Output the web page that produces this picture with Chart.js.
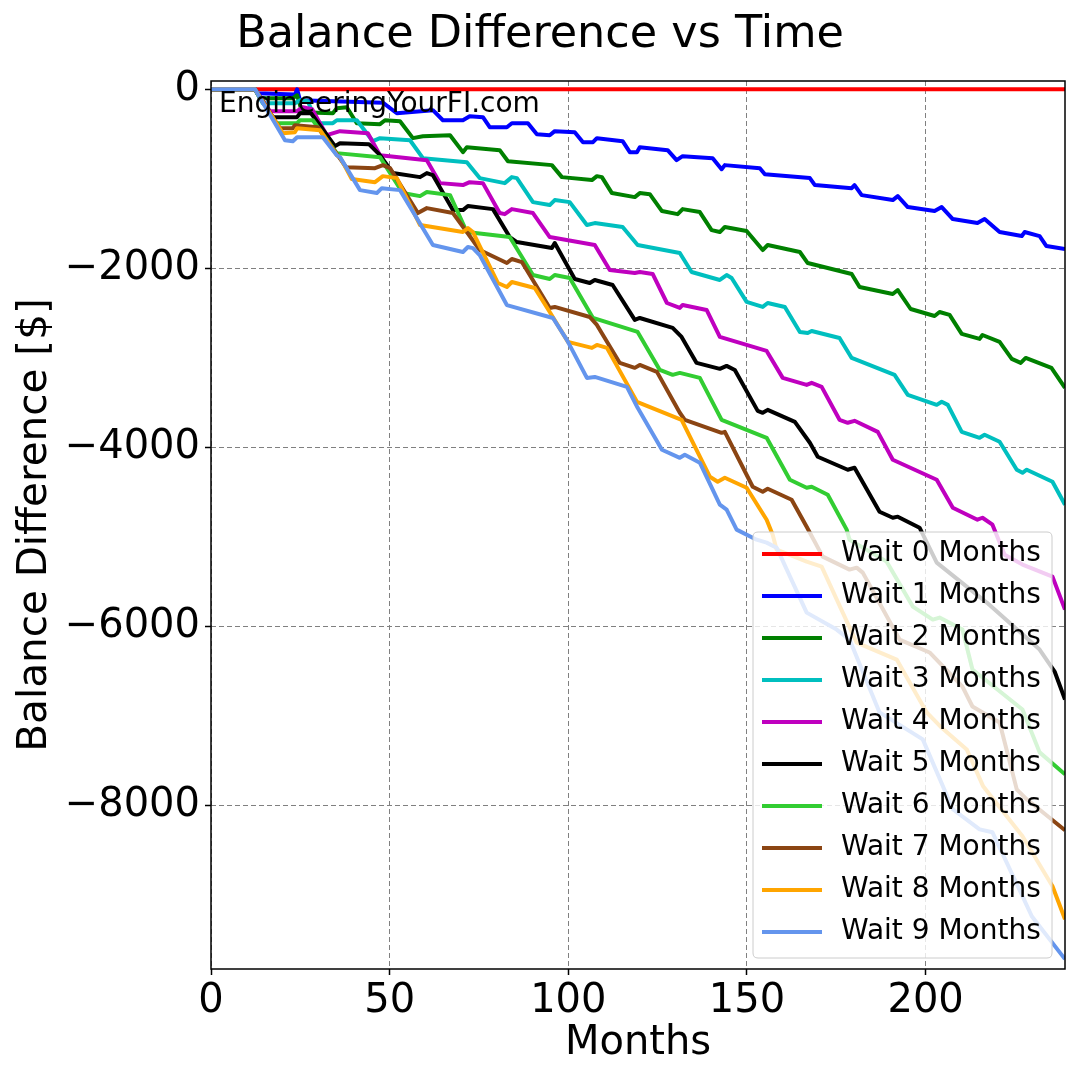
<!DOCTYPE html>
<html>
<head>
<meta charset="utf-8">
<script src="https://cdn.jsdelivr.net/npm/chart.js@4/dist/chart.umd.min.js"></script>
<style>
  html, body { margin: 0; padding: 0; background: #fff; }
  #wrap { width: 1080px; height: 1080px; }
</style>
</head>
<body>
<div id="wrap"><canvas id="chart" width="1080" height="1080"></canvas></div>
<script>
// Axis ticks
const xTicks = [0, 50, 100, 150, 200];
const yTicks = [0, -2000, -4000, -6000, -8000];

// Series names
const seriesLabels = ['Wait 0 Months', 'Wait 1 Months', 'Wait 2 Months', 'Wait 3 Months', 'Wait 4 Months',
    'Wait 5 Months', 'Wait 6 Months', 'Wait 7 Months', 'Wait 8 Months', 'Wait 9 Months'];

// Series values: [month, balance difference]
const wait0 = [[0, 0], [239, 0]];
const wait1 = [[0,0],[12.3,0],[13.2,-45],[23.5,-60],[24.1,0],[24.9,-123],[48.1,-150],[52.0,-268],[62.1,-234],[64.9,-346],[70.5,-346],[72.4,-301],[76.1,-312],[78.0,-424],[82.8,-424],[84.2,-379],[88.7,-379],[91.2,-502],[94.8,-513],[96.2,-468],[101.8,-479],[104.1,-591],[106.9,-591],[108.0,-546],[115.2,-580],[117.2,-702],[119.2,-702],[120.0,-647],[127.8,-680],[130.3,-792],[132.0,-747],[140.4,-769],[142.9,-892],[143.8,-847],[153.6,-881],[155.0,-948],[167.6,-992],[169.0,-1070],[179.3,-1104],[180.1,-1070],[182.1,-1182],[190.8,-1237],[192.2,-1193],[195.0,-1315],[202.5,-1360],[204.5,-1315],[207.6,-1449],[214.5,-1494],[216.5,-1449],[220.7,-1594],[226.9,-1639],[227.7,-1594],[231.9,-1639],[233.8,-1750],[239,-1784]];
const wait2 = [[0,0],[12.3,0],[13.7,-100],[22.9,-100],[24.1,-67],[25.5,-256],[34.1,-268],[35.2,-212],[38.0,-201],[40.8,-379],[47.3,-390],[48.7,-346],[52.9,-357],[56.5,-546],[59.3,-524],[66.9,-513],[70.5,-702],[71.6,-647],[80.8,-680],[83.1,-803],[95.4,-847],[98.2,-981],[106.6,-1014],[108.0,-970],[109.4,-981],[112.2,-1159],[118.6,-1204],[120.0,-1159],[122.8,-1171],[126.2,-1360],[130.6,-1394],[132.0,-1338],[136.8,-1371],[140.1,-1572],[142.4,-1594],[143.8,-1538],[149.9,-1583],[154.4,-1795],[155.8,-1739],[164.8,-1817],[167.0,-1940],[179.3,-2062],[181.5,-2207],[190.8,-2285],[192.2,-2241],[195.8,-2453],[202.5,-2531],[203.9,-2486],[206.7,-2519],[210.1,-2731],[215.1,-2787],[215.9,-2743],[220.7,-2820],[224.1,-3010],[226.6,-3055],[228.0,-2999],[235.2,-3110],[239,-3333]];
const wait3 = [[0,0],[12.3,0],[14.5,-156],[23.5,-156],[24.9,-123],[27.1,-134],[29.7,-379],[34.1,-379],[35.2,-346],[40.8,-346],[45.3,-580],[47.3,-546],[55.7,-569],[59.3,-769],[71.6,-814],[75.2,-992],[82.2,-1048],[84.2,-981],[85.6,-992],[90.1,-1260],[94.8,-1293],[96.2,-1237],[100.4,-1260],[105.2,-1516],[107.4,-1494],[115.2,-1538],[119.4,-1739],[131.2,-1828],[134.5,-2040],[142.4,-2129],[144.3,-2074],[145.7,-2107],[149.9,-2374],[154.4,-2430],[155.8,-2386],[160.6,-2430],[164.8,-2709],[167.0,-2720],[168.1,-2698],[175.9,-2776],[179.3,-2999],[191.3,-3188],[195.0,-3411],[203.1,-3523],[204.5,-3489],[206.2,-3523],[210.1,-3824],[215.1,-3891],[216.5,-3857],[220.7,-3935],[225.5,-4247],[227.1,-4281],[228.3,-4247],[235.5,-4381],[239,-4638]];
const wait4 = [[0,0],[12.3,0],[16.5,-245],[24.1,-245],[25.7,-201],[28.3,-223],[32.4,-513],[36.1,-468],[43.9,-491],[47.3,-736],[60.4,-792],[64.1,-1048],[70.5,-1070],[72.4,-1037],[76.1,-1048],[80.8,-1382],[82.2,-1394],[84.2,-1338],[90.1,-1382],[94.8,-1650],[107.4,-1739],[111.6,-2018],[118.6,-2051],[120.0,-2040],[123.6,-2062],[127.6,-2386],[131.2,-2441],[132.0,-2408],[138.7,-2464],[142.4,-2765],[155.5,-2921],[160.0,-3222],[166.7,-3300],[168.1,-3277],[170.9,-3322],[175.9,-3690],[178.2,-3723],[180.1,-3701],[186.6,-3824],[190.8,-4136],[203.1,-4359],[207.6,-4671],[214.5,-4805],[215.9,-4783],[218.7,-4861],[222.1,-5195],[227.1,-5306],[235.5,-5440],[239,-5808]];
const wait5 = [[0,0],[12.3,0],[17.3,-312],[24.1,-312],[24.9,-268],[28.0,-268],[34.7,-635],[36.1,-602],[44.2,-613],[47.3,-736],[50.9,-936],[58.5,-981],[60.4,-936],[62.1,-959],[67.7,-1349],[70.5,-1349],[71.9,-1304],[78.9,-1338],[83.6,-1650],[85.6,-1706],[95.4,-1773],[96.2,-1717],[101.8,-2118],[106.0,-2163],[107.4,-2129],[112.4,-2185],[118.6,-2575],[120.0,-2553],[129.2,-2664],[131.7,-2765],[135.9,-3055],[142.4,-3121],[144.3,-3088],[146.6,-3133],[153.0,-3590],[154.4,-3612],[155.8,-3579],[163.4,-3712],[167.6,-3946],[169.8,-4102],[178.2,-4247],[180.1,-4225],[187.1,-4716],[190.8,-4783],[192.2,-4771],[198.3,-4894],[203.1,-5284],[217.1,-5730],[231.9,-6254],[236.1,-6500],[239,-6812]];
const wait6 = [[0,0],[12.3,0],[18.2,-379],[24.1,-379],[24.9,-346],[28.5,-346],[35.2,-713],[47.3,-758],[53.7,-1159],[58.5,-1193],[60.4,-1148],[66.9,-1182],[71.6,-1594],[83.6,-1650],[90.1,-2074],[94.8,-2118],[96.2,-2074],[100.4,-2107],[106.9,-2553],[119.4,-2709],[125.6,-3133],[129.2,-3188],[131.2,-3166],[136.8,-3222],[142.9,-3690],[155.5,-3891],[162.0,-4359],[166.7,-4448],[168.1,-4437],[172.6,-4526],[177.9,-4916],[178.7,-5028],[189.1,-5273],[196.4,-5775],[202.0,-5920],[203.9,-5897],[210.3,-6031],[213.1,-6477],[227.1,-6923],[231.9,-7402],[239,-7647]];
const wait7 = [[0,0],[12.3,0],[19.3,-435],[22.9,-435],[23.5,-401],[29.9,-424],[37.8,-870],[45.9,-881],[48.1,-847],[50.1,-881],[57.9,-1382],[60.4,-1327],[67.7,-1382],[71.6,-1594],[75.2,-1795],[82.8,-1940],[84.2,-1895],[87.0,-1929],[94.8,-2441],[96.2,-2430],[106.0,-2542],[108.0,-2631],[114.4,-3055],[118.6,-3110],[120.0,-3077],[124.8,-3155],[131.2,-3611],[132.6,-3690],[142.9,-3835],[143.8,-3824],[151.6,-4437],[154.4,-4493],[155.8,-4459],[162.5,-4582],[166.7,-4883],[171.2,-5217],[178.7,-5362],[180.7,-5340],[182.4,-5396],[192.7,-6143],[201.1,-6287],[210.3,-6667],[213.1,-6890],[220.7,-7068],[225.5,-7815],[228.3,-7926],[239,-8272]];
const wait8 = [[0,0],[12.3,0],[20.1,-491],[23.5,-479],[24.1,-435],[30.5,-457],[35.2,-736],[36.1,-758],[39.4,-1003],[45.9,-1037],[48.1,-970],[52.0,-992],[58.5,-1516],[70.5,-1594],[71.9,-1550],[73.3,-1594],[80.3,-2163],[82.8,-2207],[84.2,-2152],[90.6,-2218],[94.8,-2486],[99.9,-2820],[106.6,-2887],[108.0,-2854],[110.8,-2887],[119.2,-3489],[131.7,-3690],[139.6,-4325],[141.8,-4381],[143.8,-4337],[149.9,-4448],[155.5,-4805],[157.2,-4972],[158.3,-5139],[166.7,-5273],[170.9,-5329],[176.8,-5842],[180.7,-6176],[191.9,-6366],[200.3,-6956],[204.1,-7112],[211.5,-7369],[216.1,-7781],[227.1,-8339],[235.5,-8896],[239,-9264]];
const wait9 = [[0,0],[12.3,0],[20.7,-569],[22.9,-580],[24.1,-535],[31.3,-535],[35.2,-736],[36.1,-758],[41.7,-1126],[46.4,-1159],[47.8,-1104],[52.9,-1126],[62.1,-1739],[70.5,-1817],[71.9,-1761],[73.3,-1773],[75.2,-1851],[82.8,-2409],[95.7,-2553],[99.6,-2798],[105.2,-3222],[107.4,-3211],[116.4,-3322],[119.4,-3556],[126.2,-4024],[131.2,-4114],[132.6,-4080],[136.8,-4169],[142.4,-4637],[144.3,-4693],[147.1,-4916],[152.7,-5028],[155.5,-5061],[158.3,-5117],[166.7,-5842],[175.1,-6031],[178.7,-6143],[187.1,-6956],[199.2,-7257],[207.6,-8037],[215.1,-8261],[218.7,-8294],[227.1,-9007],[229.7,-9231],[239,-9710]];

const allSeries = [wait0, wait1, wait2, wait3, wait4, wait5, wait6, wait7, wait8, wait9];
const colors = ['#ff0000', '#0000ff', '#008000', '#00bfbf', '#bf00bf', '#000000', '#32cd32', '#8b4513', '#ffa500', '#6495ed'];

const FONT = '"DejaVu Sans", "Liberation Sans", sans-serif';
const TITLE = 'Balance Difference vs Time';

function fmtY(v) {
    return v < 0 ? '\u2212' + Math.abs(v) : String(v);
}

// title centred on the whole figure, watermark, full box around the plot
const frame = {
    id: 'frame',
    afterDatasetsDraw(chart) {
        const ctx = chart.ctx, a = chart.chartArea;
        ctx.save();
        ctx.fillStyle = '#000';
        ctx.font = '44.5px ' + FONT;
        ctx.textBaseline = 'middle';
        ctx.textAlign = 'center';
        ctx.fillText(TITLE, chart.width / 2, 35);
        ctx.font = '28px ' + FONT;
        ctx.textBaseline = 'alphabetic';
        ctx.textAlign = 'left';
        ctx.fillText('EngineeringYourFI.com', a.left + 8, a.top + 31);
        ctx.strokeStyle = '#000';
        ctx.lineWidth = 1.5;
        ctx.strokeRect(a.left, a.top, a.right - a.left, a.bottom - a.top);
        ctx.restore();
    }
};

// legend in the lower right corner of the plot
const legendBox = {
    id: 'legendBox',
    afterDraw(chart) {
        const ctx = chart.ctx, a = chart.chartArea;
        const w = 299, h = 426, rowH = 42, r = 5;
        const x0 = a.right - 13 - w, y0 = a.bottom - 11 - h;
        ctx.save();
        ctx.beginPath();
        ctx.moveTo(x0 + r, y0);
        ctx.lineTo(x0 + w - r, y0);
        ctx.quadraticCurveTo(x0 + w, y0, x0 + w, y0 + r);
        ctx.lineTo(x0 + w, y0 + h - r);
        ctx.quadraticCurveTo(x0 + w, y0 + h, x0 + w - r, y0 + h);
        ctx.lineTo(x0 + r, y0 + h);
        ctx.quadraticCurveTo(x0, y0 + h, x0, y0 + h - r);
        ctx.lineTo(x0, y0 + r);
        ctx.quadraticCurveTo(x0, y0, x0 + r, y0);
        ctx.closePath();
        ctx.fillStyle = 'rgba(255,255,255,0.8)';
        ctx.fill();
        ctx.strokeStyle = '#cccccc';
        ctx.lineWidth = 1;
        ctx.stroke();
        ctx.font = '28px ' + FONT;
        ctx.textBaseline = 'middle';
        ctx.textAlign = 'left';
        seriesLabels.forEach((lab, i) => {
            const y = y0 + 22 + i * rowH;
            ctx.strokeStyle = colors[i];
            ctx.lineWidth = 4;
            ctx.beginPath();
            ctx.moveTo(x0 + 9, y);
            ctx.lineTo(x0 + 69, y);
            ctx.stroke();
            ctx.fillStyle = '#000';
            ctx.fillText(lab, x0 + 88, y);
        });
        ctx.restore();
    }
};

const datasets = allSeries.map((s, i) => ({
    label: seriesLabels[i],
    data: s.map(p => ({ x: p[0], y: p[1] })),
    borderColor: colors[i],
    backgroundColor: colors[i],
    borderWidth: 4,
    pointRadius: 0,
    tension: 0,
    fill: false,
    borderJoinStyle: 'round',
    order: 9 - i
}));

new Chart(document.getElementById('chart'), {
    type: 'line',
    data: { datasets },
    options: {
        responsive: false,
        animation: false,
        devicePixelRatio: 1,
        layout: { padding: { left: 0, right: 15, top: 81, bottom: 0 } },
        plugins: {
            legend: { display: false },
            tooltip: { enabled: false },
            title: { display: false }
        },
        scales: {
            x: {
                type: 'linear',
                min: 0,
                max: 239,
                afterBuildTicks: s => { s.ticks = xTicks.map(v => ({ value: v })); },
                afterFit: s => { s.height = 111; },
                ticks: {
                    color: '#000',
                    font: { family: FONT, size: 40 },
                    padding: 3,
                    maxRotation: 0,
                    callback: v => String(v)
                },
                grid: { color: '#808080', lineWidth: 1, borderDash: [5, 3], tickLength: 6, tickColor: '#000', tickWidth: 1.5, tickBorderDash: [] },
                border: { display: false, dash: [5, 3] },
                title: {
                    display: true,
                    text: 'Months',
                    color: '#000',
                    font: { family: FONT, size: 40 },
                    padding: { top: 0, bottom: 12 }
                }
            },
            y: {
                type: 'linear',
                min: -9820,
                max: 92,
                afterBuildTicks: s => { s.ticks = yTicks.map(v => ({ value: v })); },
                afterFit: s => { s.width = 211; },
                ticks: {
                    color: '#000',
                    font: { family: FONT, size: 40 },
                    padding: 5,
                    callback: v => fmtY(v)
                },
                grid: { color: '#808080', lineWidth: 1, borderDash: [5, 3], tickLength: 6, tickColor: '#000', tickWidth: 1.5, tickBorderDash: [] },
                border: { display: false, dash: [5, 3] },
                title: {
                    display: true,
                    text: 'Balance Difference [$]',
                    color: '#000',
                    font: { family: FONT, size: 40.5 },
                    padding: { top: 11, bottom: 0 }
                }
            }
        }
    },
    plugins: [frame, legendBox]
});
</script>
</body>
</html>
